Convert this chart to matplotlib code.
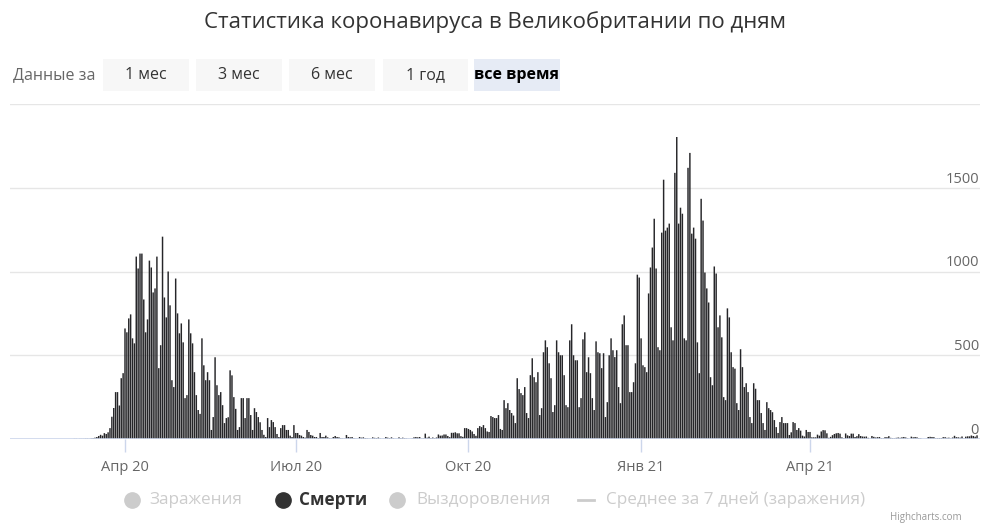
import numpy as np
import pandas as pd
import matplotlib
matplotlib.use("Agg")
import matplotlib.pyplot as plt
import matplotlib.dates as mdates
from matplotlib.patches import Rectangle
from matplotlib.lines import Line2D

# daily deaths (one list per month)
jan20 = [0]
feb20 = [0, 0, 0, 0, 0, 0, 0, 0, 0, 0, 0, 0, 0, 0, 0, 0, 0, 0, 0, 0,
         0, 0, 0, 0, 0, 0, 0, 0, 0]
mar20 = [0, 0, 0, 0, 1, 1, 0, 1, 1, 1, 2, 2, 1, 4, 6, 8, 12, 18, 25, 20,
         35, 30, 40, 65, 133, 185, 280, 280, 200, 363, 393]
apr20 = [660, 637, 720, 744, 601, 571, 1089, 1018, 1107, 1107, 833, 637, 714, 1065,
         1024, 875, 899, 1089, 423, 560, 1208, 845, 726, 1000, 798, 351, 310, 958,
         750, 631]
may20 = [690, 577, 244, 262, 714, 631, 571, 399, 262, 173, 150, 601, 440, 351,
         399, 351, 54, 131, 488, 321, 262, 280, 202, 95, 125, 130, 410, 380,
         250, 180, 54]
jun20 = [71, 244, 244, 125, 244, 244, 143, 54, 184, 161, 131, 100, 54, 25,
         12, 125, 71, 113, 101, 71, 30, 12, 65, 83, 83, 54, 54, 20, 12, 83]
jul20 = [36, 36, 24, 20, 12, 8, 54, 42, 24, 20, 12, 12, 5, 36,
         12, 12, 20, 10, 5, 3, 12, 18, 12, 10, 5, 3, 2, 24, 12, 10, 12]
aug20 = [5, 2, 1, 12, 8, 10, 6, 4, 2, 1, 10, 7, 6, 9,
         3, 1, 2, 12, 8, 6, 10, 4, 1, 1, 10, 6, 8, 5, 3, 1, 1]
sep20 = [3, 10, 12, 10, 12, 2, 3, 32, 8, 14, 6, 9, 5, 9,
         27, 20, 21, 27, 27, 18, 11, 37, 37, 40, 34, 34, 17, 13, 65, 65]
oct20 = [60, 54, 45, 30, 19, 65, 77, 71, 83, 65, 45, 42, 137, 131,
         125, 125, 143, 60, 54, 232, 184, 214, 173, 155, 140, 95, 363, 298,
         274, 262, 310]
nov20 = [155, 125, 381, 482, 369, 339, 399, 143, 184, 518, 589, 548, 452, 363,
         161, 202, 589, 518, 500, 500, 381, 202, 190, 589, 685, 500, 470, 470,
         190, 244]
dec20 = [595, 637, 399, 488, 393, 244, 173, 583, 518, 512, 423, 512, 131, 220,
         500, 601, 530, 489, 530, 310, 214, 685, 738, 560, 560, 280, 280, 339,
         452, 981, 964]
jan21 = [601, 440, 429, 399, 869, 1024, 1143, 1315, 1018, 548, 530, 1232, 1548, 1244,
         1262, 1286, 667, 589, 1589, 1803, 1286, 1381, 1345, 601, 589, 1619, 1708, 1226,
         1262, 1196, 577]
feb21 = [393, 1434, 1304, 994, 899, 815, 369, 321, 1030, 988, 667, 738, 607, 250,
         232, 780, 726, 518, 429, 420, 214, 173, 536, 429, 310, 333, 280, 131]
mar21 = [95, 333, 300, 232, 232, 155, 95, 54, 220, 184, 173, 160, 113, 71,
         36, 101, 131, 95, 95, 95, 24, 40, 101, 95, 54, 65, 50, 20, 15, 54, 42]
apr21 = [42, 10, 10, 10, 26, 20, 45, 53, 52, 34, 7, 13, 23, 30,
         34, 36, 32, 10, 4, 33, 22, 18, 32, 32, 12, 17, 29, 18, 15, 14]
may21 = [15, 7, 1, 18, 13, 9, 11, 12, 5, 4, 11, 11, 17, 7,
         5, 4, 7, 9, 7, 10, 12, 9, 4, 0, 14, 10, 12, 10, 6, 4, 0]
jun21 = [0, 1, 12, 13, 12, 11, 4, 5, 6, 6, 11, 11, 7, 8,
         3, 9, 19, 11, 10, 8, 15, 3, 14, 16, 16, 21, 18, 14, 22]

start_date = "2020-01-31"
x_ticks = ["2020-04-01", "2020-07-01", "2020-10-01", "2021-01-01", "2021-04-01"]
x_labels = ["Апр 20", "Июл 20", "Окт 20", "Янв 21", "Апр 21"]
y_ticks = [0, 500, 1000, 1500, 2000]
buttons = ["1 мес", "3 мес", "6 мес", "1 год", "все время"]
legend_items = ["Заражения", "Смерти", "Выздоровления", "Среднее за 7 дней (заражения)"]

W, H = 1000, 524
plt.rcParams['font.family'] = ['Open Sans', 'DejaVu Sans']


def fx(x):
    return x / W


def fy(y):
    return 1 - y / H


deaths = (jan20 + feb20 + mar20 + apr20 + may20 + jun20 + jul20 + aug20 + sep20
          + oct20 + nov20 + dec20 + jan21 + feb21 + mar21 + apr21 + may21 + jun21)
dates = pd.date_range(start_date, periods=len(deaths), freq="D")

fig = plt.figure(figsize=(W / 100, H / 100), dpi=100)
fig.patch.set_facecolor("white")

# plot area in pixels: left 10, right 980, zero line 439, 2000 line 104
ax = fig.add_axes([fx(10), fy(439), fx(980) - fx(10), fy(104) - fy(439)])
ax.set_facecolor("none")

px_per_day = (810 - 125) / 365.0
apr1 = mdates.date2num(pd.Timestamp("2020-04-01"))
ax.set_xlim(apr1 - (125 - 10) / px_per_day, apr1 + (980 - 125) / px_per_day)
ax.set_ylim(0, 2000)

for v in y_ticks[1:]:
    ax.axhline(v, color="#e6e6e6", lw=1, zorder=0)

ax.bar(mdates.date2num(dates), deaths, width=0.78, color="#262629",
       linewidth=0, zorder=2, snap=False)
ax.axhline(0, color="#ccd6eb", lw=1.2, zorder=3)

for s in ax.spines.values():
    s.set_visible(False)

ax.set_yticks([])
ax.set_xticks([mdates.date2num(pd.Timestamp(d)) for d in x_ticks])
ax.set_xticklabels(x_labels, fontsize=10.5, color="#666666")
ax.tick_params(axis="x", length=9, width=1, color="#ccd6eb", pad=6)

for v in y_ticks[:-1]:
    ax.text(0.999, v + 6, str(v), transform=ax.get_yaxis_transform(),
            ha="right", va="bottom", fontsize=10.5, color="#666666", zorder=4)

# title
fig.text(fx(495), fy(22), "Статистика коронавируса в Великобритании по дням",
         ha="center", va="center", fontsize=16, color="#333333")

# range selector
fig.text(fx(13), fy(75), "Данные за", ha="left", va="center",
         fontsize=11.5, color="#666666")
btn_x = [(103, 189), (196, 282), (289, 375), (383, 468), (474, 560)]
for (x0, x1), label in zip(btn_x, buttons):
    selected = label == "все время"
    fig.patches.append(Rectangle((fx(x0), fy(91)), fx(x1) - fx(x0), fy(59) - fy(91),
                                 transform=fig.transFigure,
                                 facecolor="#e6ebf5" if selected else "#f7f7f7",
                                 edgecolor="none"))
    fig.text(fx((x0 + x1) / 2), fy(75), label, ha="center", va="center",
             fontsize=11.5, color="#000000" if selected else "#333333",
             fontweight="bold" if selected else "normal")

# legend
leg_y = 500
marker_x = [132, 283, 397]
text_x = [149, 299, 416]
for i in range(3):
    active = i == 1
    col = "#333333" if active else "#cccccc"
    fig.add_artist(Line2D([fx(marker_x[i])], [fy(leg_y)], marker="o", markersize=11,
                          color=col, transform=fig.transFigure))
    fig.text(fx(text_x[i]), fy(leg_y), legend_items[i], ha="left", va="center",
             fontsize=12.3, color=col, fontweight="bold" if active else "normal")
fig.add_artist(Line2D([fx(578), fx(594)], [fy(leg_y), fy(leg_y)], color="#cccccc",
                      lw=2, transform=fig.transFigure))
fig.text(fx(606), fy(leg_y), legend_items[3], ha="left", va="center",
         fontsize=12.3, color="#cccccc")

fig.text(fx(890), fy(512), "Highcharts.com", ha="left", va="top",
         fontsize=7, color="#999999")

fig.savefig("out.png", dpi=100)
